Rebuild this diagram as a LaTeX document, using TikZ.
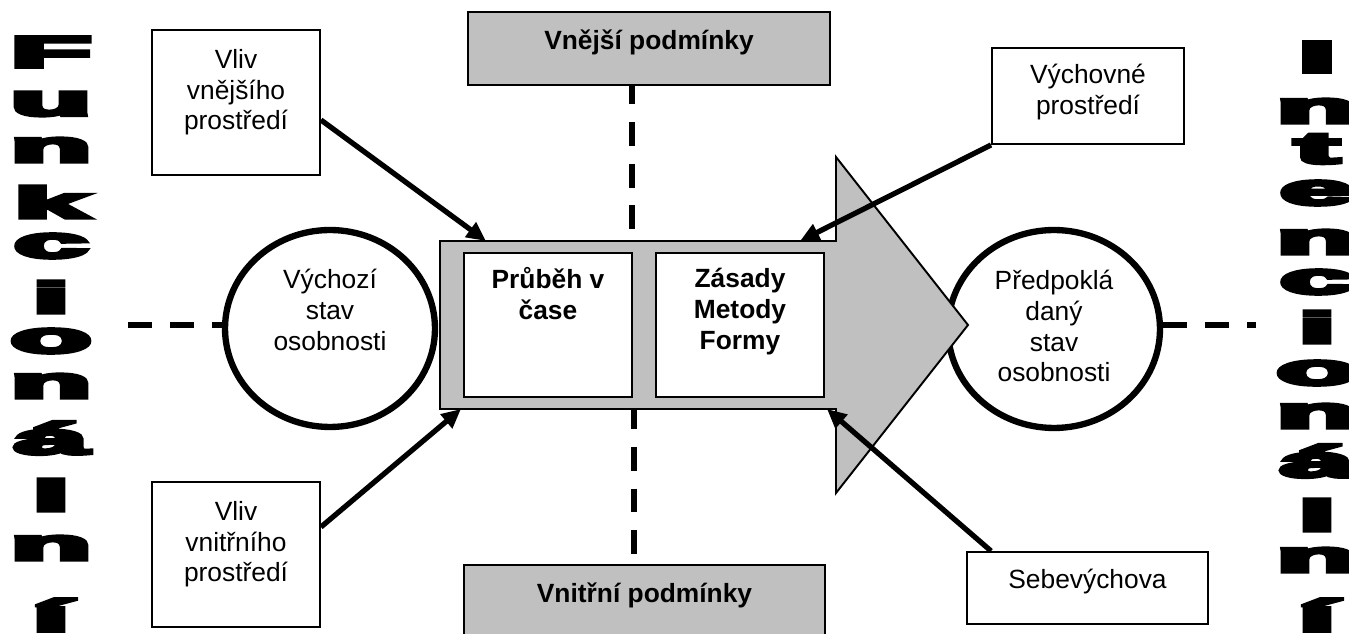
\documentclass[tikz,border=0pt]{standalone}
\usepackage{fontspec}
\usepackage{graphicx}
\usetikzlibrary{arrows.meta, shapes.geometric, positioning}
\setmainfont{Liberation Sans}
\newfontfamily\blockfont{Liberation Sans}[BoldFeatures={FakeBold=8}]
\definecolor{panelgray}{HTML}{C0C0C0}

\begin{document}
\begin{tikzpicture}[
        x=0.02cm, y=-0.02cm,
        every node/.style={inner sep=0pt, align=center, font=\fontsize{15pt}{17.5pt}\selectfont},
        box/.style={draw, fill=white, line width=1.1pt},
        graybox/.style={box, fill=panelgray},
        state/.style={draw, fill=white, ellipse, line width=3.6pt},
        glyph/.style={font=\blockfont\bfseries\fontsize{25pt}{25pt}\selectfont},
        link/.style={line width=3pt, -{Triangle[length=11pt, width=10pt]}},
        dashline/.style={line width=3.4pt, dash pattern=on 13.6pt off 10.2pt}
    ]
        \useasboundingbox (0, 0) rectangle (1349, 634);

        \coordinate (lw) at (128, 325);
        \coordinate (re) at (1256, 325);
        \coordinate (tc) at (632, 241);
        \coordinate (bc) at (634, 409);
        \coordinate (inA) at (486, 241);
        \coordinate (inB) at (461, 409);
        \coordinate (inC) at (800, 241);
        \coordinate (inD) at (827, 409);

        \node[graybox, minimum width=7.24cm, minimum height=1.46cm] (outer) at (649, 48.5) {};
        \node[below=0.36cm of outer.north] (outerT) {\bfseries Vnější podmínky};
        \node[graybox, minimum width=7.22cm, minimum height=1.5cm] (inner) at (644.5, 602.5) {};
        \node[below=0.36cm of inner.north] (innerT) {\bfseries Vnitřní podmínky};

        \draw[dashline, dash phase=3.4pt] (tc |- outer.south) -- (tc);
        \draw[dashline, dash phase=2.3pt] (bc) -- (bc |- inner.north);

        \node[state, minimum width=4.2cm, minimum height=3.94cm] (start) at (330, 328.5) {};
        \node[below=0.84cm of start.north] (startT) {Výchozí\\stav\\osobnosti};
        \node[state, minimum width=4.24cm, minimum height=3.96cm] (target) at (1054, 329) {};
        \node[below=0.86cm of target.north] (targetT) {Předpoklá\\daný\\stav\\osobnosti};

        \draw[dashline] (lw) -- (lw -| start.west);
        \draw[dashline] (re -| target.east) -- (re);

        \draw[fill=panelgray, line width=1.1pt] (440, 241) -- (836, 241) -- (836, 157) -- (968, 325)
            -- (836, 493) -- (836, 409) -- (440, 409) -- cycle;

        \node[box, minimum width=3.36cm, minimum height=2.88cm] (prubeh) at (548, 325) {};
        \node[below=0.3cm of prubeh.north] (prubehT) {\bfseries Průběh v\\\bfseries čase};
        \node[box, minimum width=3.36cm, minimum height=2.88cm] (zasady) at (740, 325) {};
        \node[below=0.32cm of zasady.north] (zasadyT) {\bfseries Zásady\\\bfseries Metody\\\bfseries Formy};

        \node[box, minimum width=3.36cm, minimum height=2.9cm] (vlivA) at (236, 102.5) {};
        \node[below=0.4cm of vlivA.north] (vlivAT) {Vliv\\vnějšího\\prostředí};
        \node[box, minimum width=3.36cm, minimum height=2.9cm] (vlivB) at (236, 554.5) {};
        \node[below=0.4cm of vlivB.north] (vlivBT) {Vliv\\vnitřního\\prostředí};
        \node[box, minimum width=3.84cm, minimum height=1.92cm] (vychovne) at (1088, 96) {};
        \node[below=0.34cm of vychovne.north] (vychovneT) {Výchovné\\prostředí};
        \node[box, minimum width=4.82cm, minimum height=1.44cm] (sebe) at (1087.5, 588) {};
        \node[below=0.36cm of sebe.north] (sebeT) {Sebevýchova};

        \draw[link] ([yshift=-0.35cm]vlivA.east) -- (inA);
        \draw[link] ([yshift=0.55cm]vlivB.east) -- (inB);
        \draw[link] (vychovne.south west) -- (inC);
        \draw[link] ([xshift=0.5cm]sebe.north west) -- (inD);

        \foreach \ch/\yy [count=\i] in {F/52, u/104, n/150, k/202, c/246, i/297, o/341, n/386, á/438, l/495, n/548, í/615}
            \node[glyph] (fun\i) at (51, \yy) {\scalebox{3}[1]{\ch}};
        \foreach \ch/\yy [count=\i] in {I/57, n/111, t/149, e/193, n/242, c/282, i/327, o/373, n/416, á/461, l/515, n/560, í/615}
            \node[glyph] (int\i) at (1317, \yy) {\scalebox{3}[1]{\ch}};
\end{tikzpicture}
\end{document}
